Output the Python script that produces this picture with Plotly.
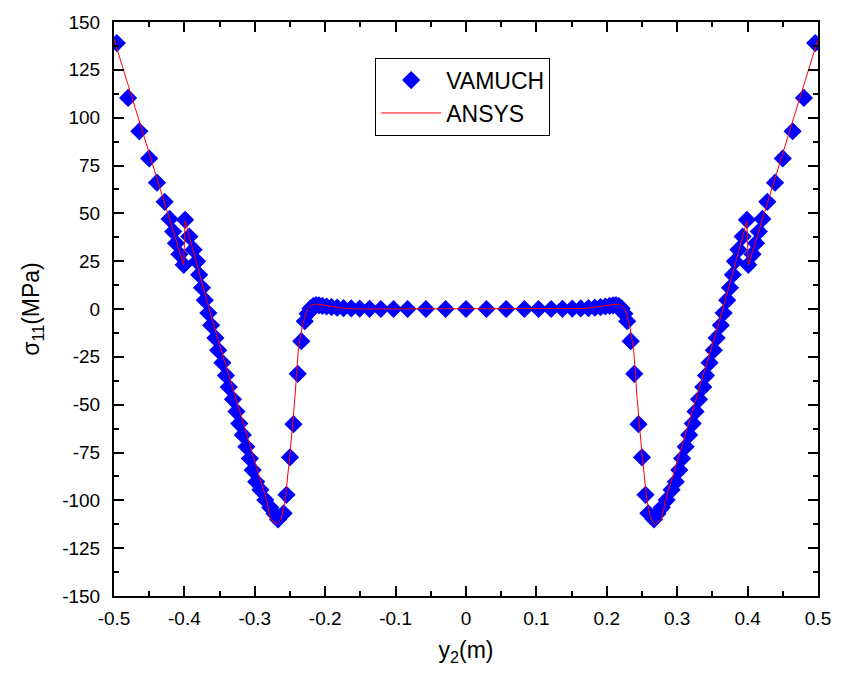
import plotly.graph_objects as go

# ---------------- data ----------------
vamuch_x = [
    -0.496, -0.480, -0.464, -0.450, -0.439, -0.428, -0.421, -0.416, -0.412, -0.407,
    -0.401, -0.399, -0.393, -0.387, -0.382, -0.379, -0.375, -0.371, -0.366, -0.362,
    -0.356, -0.352, -0.346, -0.341, -0.337, -0.331, -0.326, -0.322, -0.317, -0.312,
    -0.307, -0.303, -0.298, -0.292, -0.285, -0.278, -0.272, -0.267, -0.259, -0.255,
    -0.250, -0.245, -0.239, -0.234, -0.229, -0.225, -0.221, -0.217, -0.213, -0.209,
    -0.204, -0.198, -0.191, -0.183, -0.174, -0.163, -0.151, -0.137, -0.121, -0.103,
    -0.083, -0.057, -0.029, 0.000,
    0.029, 0.057, 0.083, 0.103, 0.121, 0.137, 0.151, 0.163, 0.174, 0.183,
    0.191, 0.198, 0.204, 0.209, 0.213, 0.217, 0.221, 0.225, 0.229, 0.234,
    0.239, 0.245, 0.250, 0.255, 0.259, 0.267, 0.272, 0.278, 0.285, 0.292,
    0.298, 0.303, 0.307, 0.312, 0.317, 0.322, 0.326, 0.331, 0.337, 0.341,
    0.346, 0.352, 0.356, 0.362, 0.366, 0.371, 0.375, 0.379, 0.382, 0.387,
    0.393, 0.399, 0.401, 0.407, 0.412, 0.416, 0.421, 0.428, 0.439, 0.450,
    0.464, 0.480, 0.496,
]
vamuch_y = [
    139.0, 110.3, 92.9, 78.7, 66.0, 56.0, 47.1, 40.5, 34.4, 28.6,
    23.1, 46.6, 37.9, 31.0, 24.9, 17.9, 11.1, 4.6, -2.1, -8.5,
    -15.1, -21.5, -28.1, -34.7, -40.8, -47.2, -53.6, -59.9, -65.8, -72.0,
    -78.1, -84.2, -90.3, -94.5, -99.8, -103.8, -107.0, -110.0, -106.8, -97.1,
    -77.5, -60.2, -33.9, -16.8, -6.4, -2.5, 0.3, 1.5, 2.0, 1.9,
    1.6, 1.3, 1.0, 0.7, 0.5, 0.3, 0.2, 0.1, 0.0, 0.0,
    0.0, 0.0, 0.0, 0.0,
    0.0, 0.0, 0.0, 0.0, 0.0, 0.1, 0.2, 0.3, 0.5, 0.7,
    1.0, 1.3, 1.6, 1.9, 2.0, 1.5, 0.3, -2.5, -6.4, -16.8,
    -33.9, -60.2, -77.5, -97.1, -106.8, -110.0, -107.0, -103.8, -99.8, -94.5,
    -90.3, -84.2, -78.1, -72.0, -65.8, -59.9, -53.6, -47.2, -40.8, -34.7,
    -28.1, -21.5, -15.1, -8.5, -2.1, 4.6, 11.1, 17.9, 24.9, 31.0,
    37.9, 46.6, 23.1, 28.6, 34.4, 40.5, 47.1, 56.0, 66.0, 78.7,
    92.9, 110.3, 139.0,
]

ansys_x = [
    -0.500, -0.401, -0.399, -0.360, -0.283, -0.278, -0.2686, -0.2625, -0.257, -0.250,
    -0.243, -0.238, -0.232, -0.226, -0.220, -0.2147, -0.205, -0.191, -0.172, -0.150,
    0.000,
    0.150, 0.172, 0.191, 0.205, 0.2147, 0.220, 0.226, 0.232, 0.238, 0.243,
    0.250, 0.257, 0.2625, 0.2686, 0.278, 0.283, 0.360, 0.399, 0.401, 0.500,
]
ansys_y = [
    141.0, 23.0, 46.0, -6.4, -100.3, -109.7, -112.5, -109.7, -100.2, -75.8,
    -46.4, -20.3, -8.1, -0.3, 2.0, 2.6, 2.2, 1.4, 0.3, 0.0,
    0.0,
    0.0, 0.3, 1.4, 2.2, 2.6, 2.0, -0.3, -8.1, -20.3, -46.4,
    -75.8, -100.2, -109.7, -112.5, -109.7, -100.3, -6.4, 46.0, 23.0, 141.0,
]

x_tickvals = [-0.5, -0.4, -0.3, -0.2, -0.1, 0.0, 0.1, 0.2, 0.3, 0.4, 0.5]
x_ticktext = ["-0.5", "-0.4", "-0.3", "-0.2", "-0.1", "0", "0.1", "0.2", "0.3", "0.4", "0.5"]
y_tickvals = [-150, -125, -100, -75, -50, -25, 0, 25, 50, 75, 100, 125, 150]
y_ticktext = ["-150", "-125", "-100", "-75", "-50", "-25", "0", "25", "50", "75", "100", "125", "150"]

# ---------------- figure ----------------
FONT = "Liberation Sans, Arial, sans-serif"

fig = go.Figure()
fig.add_trace(go.Scatter(
    x=vamuch_x, y=vamuch_y, mode="markers", name="VAMUCH",
    marker=dict(symbol="diamond", size=14, color="#0000FF", line=dict(width=0)),
))
fig.add_trace(go.Scatter(
    x=ansys_x, y=ansys_y, mode="lines", name="ANSYS",
    line=dict(color="#FF0000", width=1),
))

axis_common = dict(
    showline=True, linecolor="black", linewidth=2, mirror="ticks",
    ticks="inside", ticklen=10, tickwidth=2, tickcolor="black",
    showgrid=False, zeroline=False,
    tickfont=dict(family=FONT, size=19, color="black"),
)

fig.update_xaxes(
    range=[-0.5, 0.5], tickmode="array", tickvals=x_tickvals, ticktext=x_ticktext,
    minor=dict(dtick=0.05, ticks="inside", ticklen=5, tickwidth=2, tickcolor="black", showgrid=False),
    ticklabelstandoff=4,
    title=dict(text="y<sub>2</sub>(m)", font=dict(family=FONT, size=23, color="black"), standoff=14),
    **axis_common,
)
fig.update_yaxes(
    range=[-150, 150], tickmode="array", tickvals=y_tickvals, ticktext=y_ticktext,
    minor=dict(dtick=12.5, ticks="inside", ticklen=5, tickwidth=2, tickcolor="black", showgrid=False),
    ticklabelstandoff=8,
    title=dict(text="σ<sub>11</sub>(MPa)", font=dict(family=FONT, size=23, color="black"), standoff=16),
    **axis_common,
)

fig.update_layout(
    width=843, height=681,
    margin=dict(l=114, r=19, t=20, b=85),
    paper_bgcolor="white", plot_bgcolor="white",
    showlegend=True,
    legend=dict(
        x=0.371, y=0.938, xanchor="left", yanchor="top",
        bordercolor="black", borderwidth=1, bgcolor="white",
        font=dict(family=FONT, size=23, color="black"),
        itemwidth=60, tracegroupgap=0,
    ),
)

fig.write_html("out.html")
